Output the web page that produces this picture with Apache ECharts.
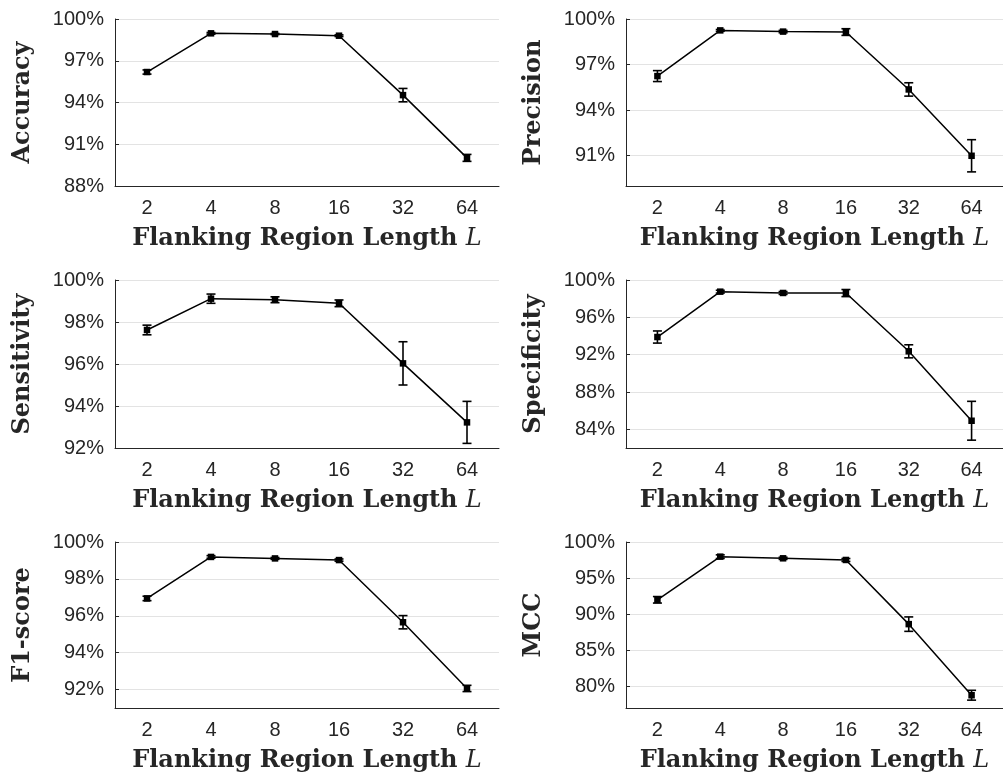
<!DOCTYPE html>
<html><head><meta charset="utf-8">
<script src="https://cdn.jsdelivr.net/npm/echarts@6/dist/echarts.min.js"></script>
<style>html,body{margin:0;padding:0;background:#fff}#c{width:1003px;height:774px}</style>
</head><body><div id="c"></div>
<script>
const categories = ['2', '4', '8', '16', '32', '64'];

const accuracy = [96.19, 98.97, 98.92, 98.80, 94.53, 90.02];
const accuracyErr = [0.15, 0.06, 0.04, 0.06, 0.48, 0.25];
const accuracyTicks = [88, 91, 94, 97, 100];

const precision = [96.24, 99.25, 99.17, 99.14, 95.36, 90.99];
const precisionErr = [0.36, 0.06, 0.08, 0.22, 0.44, 1.06];
const precisionTicks = [91, 94, 97, 100];

const sensitivity = [97.62, 99.11, 99.06, 98.89, 96.03, 93.22];
const sensitivityErr = [0.23, 0.22, 0.14, 0.16, 1.03, 1.0];
const sensitivityTicks = [92, 94, 96, 98, 100];

const specificity = [93.89, 98.75, 98.61, 98.60, 92.36, 84.92];
const specificityErr = [0.65, 0.15, 0.15, 0.38, 0.70, 2.08];
const specificityTicks = [84, 88, 92, 96, 100];

const f1score = [96.94, 99.19, 99.11, 99.02, 95.65, 92.06];
const f1scoreErr = [0.12, 0.07, 0.05, 0.06, 0.36, 0.17];
const f1scoreTicks = [92, 94, 96, 98, 100];

const mcc = [91.99, 97.97, 97.74, 97.51, 88.62, 78.77];
const mccErr = [0.45, 0.25, 0.15, 0.2, 1.0, 0.68];
const mccTicks = [80, 85, 90, 95, 100];

const panels = [
  {title: 'Accuracy', values: accuracy, err: accuracyErr, ticks: accuracyTicks, min: 88, max: 100},
  {title: 'Precision', values: precision, err: precisionErr, ticks: precisionTicks, min: 89, max: 100},
  {title: 'Sensitivity', values: sensitivity, err: sensitivityErr, ticks: sensitivityTicks, min: 92, max: 100},
  {title: 'Specificity', values: specificity, err: specificityErr, ticks: specificityTicks, min: 82, max: 100},
  {title: 'F1-score', values: f1score, err: f1scoreErr, ticks: f1scoreTicks, min: 91, max: 100},
  {title: 'MCC', values: mcc, err: mccErr, ticks: mccTicks, min: 77, max: 100}
];

const colLeft = [115, 626];
const rowTop = [19, 280, 542];
const rowH = [167, 168, 167];
const plotW = 384;
const ink = '#262626';
const serif = 'DejaVu Serif';

const grids = [], xAxes = [], yAxes = [], series = [];

function renderErr(params, api) {
  const x = api.value(0), m = api.value(1), e = api.value(2);
  const hi = api.coord([x, m + e]);
  const lo = api.coord([x, m - e]);
  const w = 4.5;
  const st = {stroke: '#000', lineWidth: 1.6};
  return {type: 'group', children: [
    {type: 'line', shape: {x1: hi[0], y1: hi[1], x2: lo[0], y2: lo[1]}, style: st},
    {type: 'line', shape: {x1: hi[0] - w, y1: hi[1], x2: hi[0] + w, y2: hi[1]}, style: st},
    {type: 'line', shape: {x1: lo[0] - w, y1: lo[1], x2: lo[0] + w, y2: lo[1]}, style: st}
  ]};
}

panels.forEach((p, i) => {
  const c = i % 2, r = Math.floor(i / 2);
  grids.push({left: colLeft[c], top: rowTop[r], width: plotW, height: rowH[r], containLabel: false});
  xAxes.push({
    type: 'category', gridIndex: i, data: categories, boundaryGap: true,
    name: '{b|Flanking Region Length }{i|L}', nameLocation: 'middle', nameGap: 41,
    nameTextStyle: {
      rich: {
        b: {fontFamily: serif, fontWeight: 'bold', fontSize: 24, color: ink},
        i: {fontFamily: serif, fontStyle: 'italic', fontSize: 24, color: ink}
      }
    },
    axisLine: {lineStyle: {color: ink, width: 1}},
    axisTick: {inside: true, alignWithLabel: true, length: 4, lineStyle: {color: ink}},
    axisLabel: {fontFamily: 'Liberation Sans', fontSize: 20, color: ink, margin: 12},
    splitLine: {show: false}
  });
  yAxes.push({
    type: 'value', gridIndex: i, min: p.min, max: p.max,
    name: p.title, nameLocation: 'middle', nameGap: 80,
    nameTextStyle: {fontFamily: serif, fontWeight: 'bold', fontSize: 24, color: ink},
    axisLine: {show: true, lineStyle: {color: ink, width: 1}},
    axisTick: {show: true, inside: true, length: 4, lineStyle: {color: ink}, customValues: p.ticks},
    axisLabel: {fontFamily: 'Liberation Sans', fontSize: 20, color: ink, margin: 11,
      customValues: p.ticks, formatter: v => v + '%'},
    splitLine: {show: true, lineStyle: {color: '#e3e3e3', width: 1.2}}
  });
  series.push({
    type: 'line', xAxisIndex: i, yAxisIndex: i, data: p.values,
    symbol: 'rect', symbolSize: 6.5, showSymbol: true,
    itemStyle: {color: '#000'}, lineStyle: {color: '#000', width: 1.5},
    animation: false, z: 3
  });
  series.push({
    type: 'custom', xAxisIndex: i, yAxisIndex: i,
    data: p.values.map((v, k) => [k, v, p.err[k]]),
    encode: {x: 0, y: 1},
    renderItem: renderErr, animation: false, z: 4
  });
});

const chart = echarts.init(document.getElementById('c'), null, {renderer: 'canvas'});
chart.setOption({
  animation: false,
  backgroundColor: '#fff',
  grid: grids, xAxis: xAxes, yAxis: yAxes, series: series
});
</script></body></html>
